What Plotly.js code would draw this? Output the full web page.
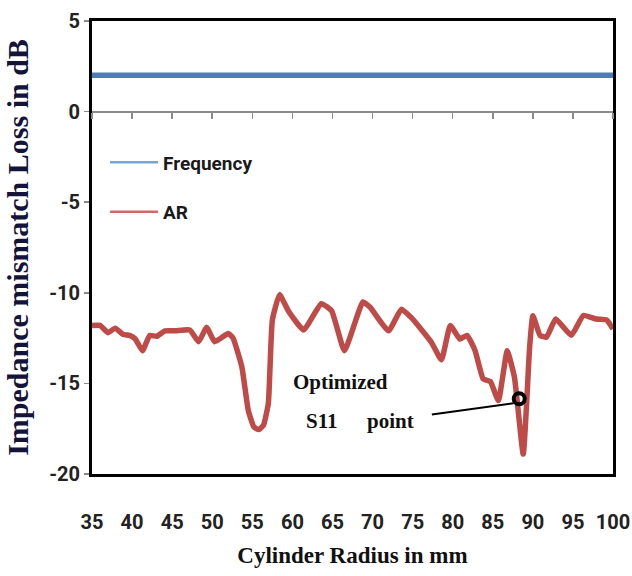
<!DOCTYPE html>
<html>
<head>
<meta charset="utf-8">
<script src="https://cdn.plot.ly/plotly-3.0.1.min.js"></script>
<style>html,body{margin:0;padding:0;background:#fff;}#chart{width:632px;height:576px;}</style>
</head>
<body>
<div id="chart"></div>
<script>
// Cylinder radius (mm) and AR impedance mismatch loss (dB)
var radius = [35, 36, 37, 37.9, 38.9, 39.7, 40.4, 41.3, 42.2, 43.1, 44.1, 45.4, 47.2, 48.3, 49.3, 50.3, 52.0, 52.6, 53.7, 54.5, 55.2, 55.8, 56.4, 57.0, 57.5, 58.4, 59.5, 61.4, 63.6, 64.9, 66.5, 68.8, 69.7, 72.0, 73.6, 74.9, 77.3, 78.6, 79.7, 80.9, 81.8, 82.8, 83.8, 84.7, 85.7, 86.8, 87.7, 88.8, 89.6, 90.0, 90.9, 91.7, 92.85, 94.8, 96.3, 97.9, 99.2, 100];
var arLoss = [-11.8, -11.8, -12.2, -11.95, -12.3, -12.35, -12.55, -13.2, -12.35, -12.4, -12.1, -12.1, -12.05, -12.7, -11.9, -12.7, -12.25, -12.5, -14.1, -16.5, -17.4, -17.55, -17.3, -16.1, -11.5, -10.1, -11.0, -12.05, -10.6, -11.0, -13.2, -10.5, -10.8, -12.1, -10.9, -11.4, -12.7, -13.7, -11.8, -12.55, -12.35, -13.2, -14.75, -14.9, -15.95, -13.2, -14.65, -18.9, -13.0, -11.26, -12.35, -12.45, -11.45, -12.35, -11.25, -11.45, -11.5, -12.0];
// Frequency series (constant)
var freqRadius = [35, 100];
var freqLoss = [2, 2];
// Optimized S11 point
var optRadius = [88.3];
var optLoss = [-15.85];
// Axis ticks
var xTicks = [35, 40, 45, 50, 55, 60, 65, 70, 75, 80, 85, 90, 95, 100];
var yTicks = [5, 0, -5, -10, -15, -20];
var yTickLabels = ['5', '0', '-5', '-10', '-15', '-20'];

var blue = '#4a7ebb', red = '#be4b48';
var tickFontFamily = '"Liberation Sans Narrow", "Arial Narrow", "Roboto", sans-serif';
var serif = '"Liberation Serif", "Times New Roman", serif';

var traces = [
  {x: freqRadius, y: freqLoss, xaxis: 'x2', yaxis: 'y', mode: 'lines', line: {color: blue, width: 5.5}, showlegend: false, hoverinfo: 'skip'},
  {x: radius, y: arLoss, mode: 'lines', line: {color: red, width: 5.5, shape: 'spline', smoothing: 0.4}, showlegend: false, hoverinfo: 'skip'},
  {x: optRadius, y: optLoss, mode: 'markers', marker: {symbol: 'circle-open', size: 11, color: '#000', line: {width: 4, color: '#000'}}, showlegend: false, hoverinfo: 'skip'},
  // legend entries
  {x: [null], y: [null], name: 'Frequency', mode: 'lines', line: {color: '#7aa3d6', width: 2.5}, legendgroup: 'f'},
  {x: [null], y: [null], name: 'AR', mode: 'lines', line: {color: '#d06a66', width: 2.5}, legendgroup: 'a'}
];

var layout = {
  width: 632, height: 576,
  margin: {l: 92, r: 19, t: 21, b: 102},
  paper_bgcolor: '#fff', plot_bgcolor: '#fff',
  showlegend: true,
  legend: {x: 0.025, y: 0.73, xanchor: 'left', yanchor: 'top', bgcolor: 'rgba(0,0,0,0)',
           font: {family: tickFontFamily, size: 19, color: '#1a1a1a', weight: 'bold'},
           tracegroupgap: 22, traceorder: 'grouped', itemwidth: 48},
  xaxis: {range: [35, 100], tickvals: xTicks, showgrid: false, zeroline: false,
          showline: true, linecolor: '#000', linewidth: 3, mirror: true, ticks: '',
          ticklabelstandoff: 28,
          tickfont: {family: tickFontFamily, size: 20, color: '#222', weight: 'bold'},
          title: {text: 'Cylinder Radius in mm', standoff: 14,
                  font: {family: serif, size: 23, color: '#111', weight: 'bold'}}},
  xaxis2: {range: [35, 100], tickvals: xTicks, overlaying: 'x', anchor: 'free', position: 0.8, side: 'bottom',
           showgrid: false, zeroline: false, showline: true, linecolor: '#8a8a8a', linewidth: 2,
           ticks: 'outside', ticklen: 6, tickwidth: 1.5, tickcolor: '#8a8a8a', showticklabels: false},
  yaxis: {range: [-20, 5], tickvals: yTicks, ticktext: yTickLabels, showgrid: false, zeroline: false,
          showline: true, linecolor: '#000', linewidth: 3, mirror: true,
          ticks: 'outside', ticklen: 5, tickwidth: 1.5, tickcolor: '#8a8a8a',
          tickfont: {family: tickFontFamily, size: 20, color: '#222', weight: 'bold'},
          title: {text: 'Impedance mismatch Loss in dB', standoff: 12,
                  font: {family: serif, size: 30, color: '#14143a', weight: 'bold'}}},
  shapes: [
    {type: 'line', xref: 'x', yref: 'y', x0: 77.4, y0: -16.72, x1: 87.6, y1: -16.1, line: {color: '#000', width: 2}}
  ],
  annotations: [
    {xref: 'x', yref: 'y', x: 66.0, y: -14.95, text: 'Optimized', showarrow: false,
     font: {family: serif, size: 21, color: '#111', weight: 'bold'}},
    {xref: 'x', yref: 'y', x: 63.7, y: -17.05, text: 'S11', showarrow: false,
     font: {family: serif, size: 21, color: '#111', weight: 'bold'}},
    {xref: 'x', yref: 'y', x: 72.2, y: -17.05, text: 'point', showarrow: false,
     font: {family: serif, size: 21, color: '#111', weight: 'bold'}}
  ]
};

Plotly.newPlot('chart', traces, layout, {displayModeBar: false, staticPlot: true});
</script>
</body>
</html>
